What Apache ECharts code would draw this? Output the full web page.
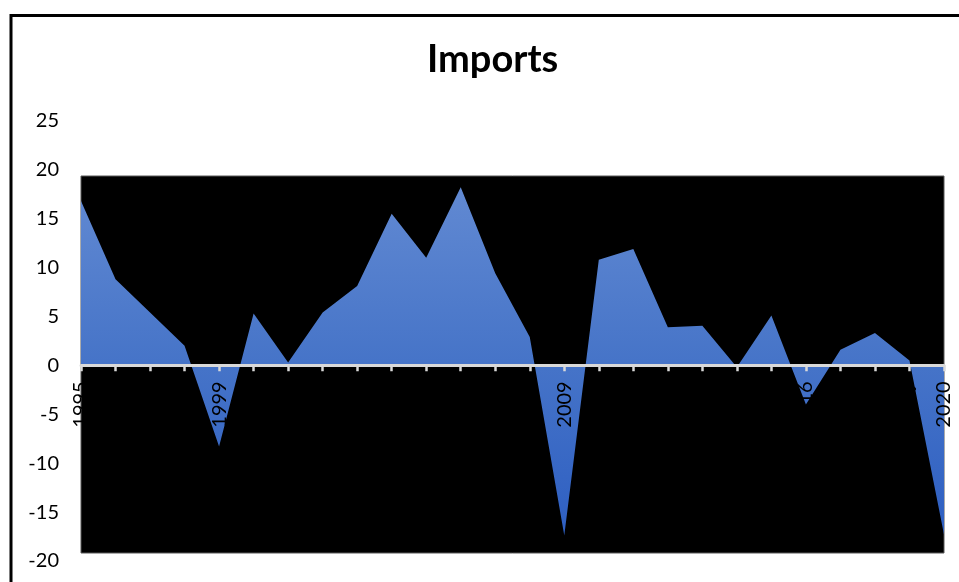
<!DOCTYPE html>
<html>
<head>
<meta charset="utf-8">
<style>
  html, body { margin: 0; padding: 0; background: #fff; }
  #chart { width: 959px; height: 582px; }
</style>
<script src="https://cdn.jsdelivr.net/npm/echarts@6/dist/echarts.min.js"></script>
</head>
<body>
<div id="chart"></div>
<script>
const title = 'Imports';
const years = ['1995','1996','1997','1998','1999','2000','2001','2002','2003','2004','2005','2006','2007',
               '2008','2009','2010','2011','2012','2013','2014','2015','2016','2017','2018','2019','2020'];
const imports = [16.8, 8.8, 5.4, 2.0, -8.3, 5.3, 0.3, 5.4, 8.1, 15.5, 11.0, 18.2, 9.4,
                 2.9, -17.4, 10.8, 11.9, 3.9, 4.05, -0.2, 5.1, -4.0, 1.6, 3.3, 0.5, -17.3];
const yMin = -20, yMax = 25, yStep = 5;

// layout of the data grid; the category axis is lifted from the grid bottom to the zero line
const gridTop = 120.7, gridBottom = 21, chartH = 582;
const gridH = chartH - gridBottom - gridTop;
const zeroOffset = -gridH * (0 - yMin) / (yMax - yMin);

const chart = echarts.init(document.getElementById('chart'), null, { renderer: 'canvas' });
chart.setOption({
  backgroundColor: '#ffffff',
  animation: false,
  title: {
    text: title,
    left: 422,
    top: 36,
    textStyle: { fontFamily: 'Lato', fontWeight: 'bold', fontSize: 38, color: '#000' }
  },
  graphic: [{
    type: 'rect',
    shape: { x: 11, y: 15.5, width: 1000, height: 700 },
    style: { fill: 'none', stroke: '#000', lineWidth: 3 },
    silent: true,
    z: 100
  }],
  grid: [
    { left: 81, right: 15, top: 176, bottom: 29, show: true, backgroundColor: '#000',
      borderColor: '#595959', borderWidth: 1, containLabel: false, outerBoundsMode: 'none' },
    { left: 81, right: 15, top: gridTop, bottom: gridBottom, containLabel: false, outerBoundsMode: 'none' }
  ],
  xAxis: [
    { gridIndex: 0, type: 'category', data: years, show: false, boundaryGap: false },
    {
      gridIndex: 1, type: 'category', data: years, boundaryGap: false, z: 10,
      position: 'bottom',
      offset: zeroOffset,
      axisLine: { onZero: false, lineStyle: { color: '#d9d9d9', width: 3 } },
      axisTick: { show: true, interval: 0, length: 6, lineStyle: { color: '#d9d9d9', width: 2.5 } },
      axisLabel: { interval: 0, rotate: 90, margin: 16, color: '#000', fontFamily: 'Lato', fontSize: 20,
                   hideOverlap: false },
      splitLine: { show: false }
    }
  ],
  yAxis: [
    { gridIndex: 0, type: 'value', show: false, min: -1, max: 1 },
    {
      gridIndex: 1, type: 'value', min: yMin, max: yMax, interval: yStep,
      axisLine: { show: false }, axisTick: { show: false }, splitLine: { show: false },
      axisLabel: { margin: 22, color: '#000', fontFamily: 'Lato', fontSize: 20 }
    }
  ],
  series: [{
    name: title,
    type: 'line',
    xAxisIndex: 1, yAxisIndex: 1,
    data: imports,
    symbol: 'none',
    lineStyle: { width: 0 },
    areaStyle: {
      opacity: 1,
      color: {
        type: 'linear', x: 0, y: 0, x2: 0, y2: 1,
        colorStops: [
          { offset: 0, color: '#6189d2' },
          { offset: 0.5, color: '#4674c8' },
          { offset: 1, color: '#2e5fc2' }
        ]
      }
    }
  }]
});
</script>
</body>
</html>
